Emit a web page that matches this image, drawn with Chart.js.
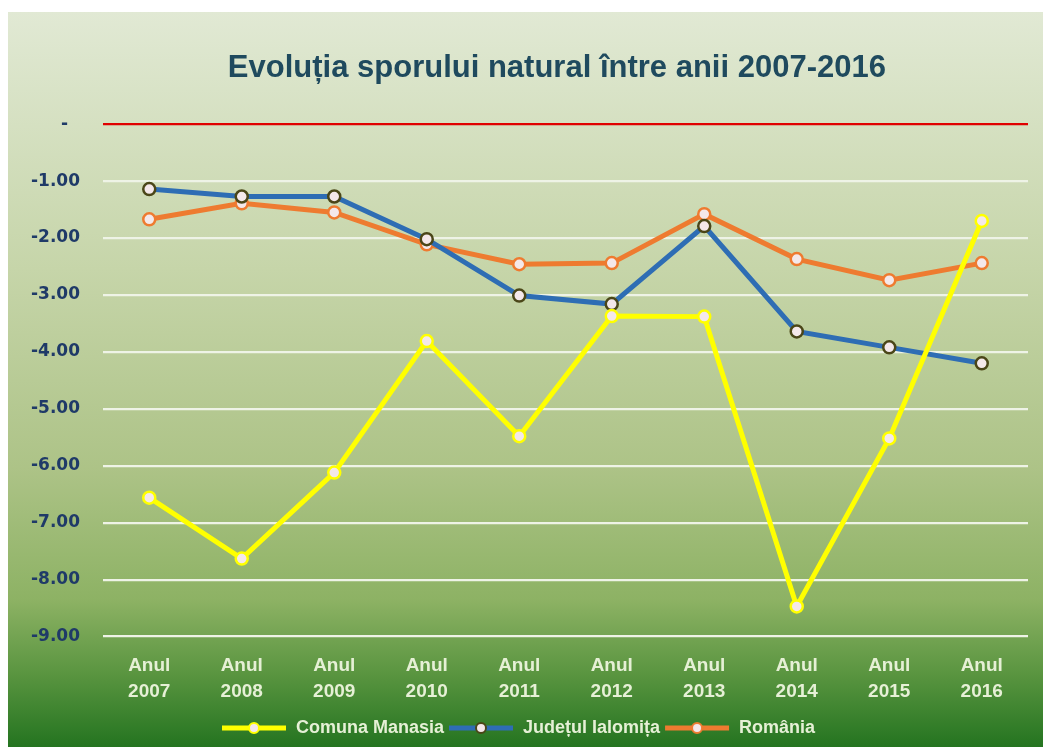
<!DOCTYPE html>
<html>
<head>
<meta charset="utf-8">
<script src="https://cdn.jsdelivr.net/npm/chart.js@4/dist/chart.umd.min.js"></script>
<style>
  html, body { margin: 0; padding: 0; background: #ffffff; }
  #wrap { position: absolute; left: 0; top: 0; width: 1043px; height: 747px; }
</style>
</head>
<body>
<div id="wrap"><canvas id="c" width="1043" height="747"></canvas></div>
<script>
const categories = [["Anul","2007"],["Anul","2008"],["Anul","2009"],["Anul","2010"],["Anul","2011"],["Anul","2012"],["Anul","2013"],["Anul","2014"],["Anul","2015"],["Anul","2016"]];
const comunaManasia = [-6.56, -7.63, -6.12, -3.81, -5.48, -3.37, -3.38, -8.47, -5.52, -1.70];
const judetulIalomita = [-1.14, -1.27, -1.27, -2.02, -3.01, -3.16, -1.79, -3.64, -3.92, -4.20];
const romania = [-1.67, -1.39, -1.55, -2.11, -2.46, -2.44, -1.58, -2.37, -2.74, -2.44];
const seriesNames = ["Comuna Manasia", "Județul Ialomița", "România"];
const yTicks = [0, -1, -2, -3, -4, -5, -6, -7, -8, -9];
const titleText = "Evoluția sporului natural între anii 2007-2016";

const bgPlugin = {
  id: 'bg',
  beforeDraw(chart) {
    const ctx = chart.ctx;
    ctx.save();
    ctx.fillStyle = '#ffffff';
    ctx.fillRect(0, 0, chart.width, chart.height);
    const g = ctx.createLinearGradient(0, 12, 0, 747);
    g.addColorStop(0.00, '#e1e9d4');
    g.addColorStop(0.35, '#c6d5a9');
    g.addColorStop(0.62, '#adc387');
    g.addColorStop(0.80, '#8db264');
    g.addColorStop(0.90, '#5a9540');
    g.addColorStop(1.00, '#247420');
    ctx.fillStyle = g;
    ctx.fillRect(8, 12, chart.width - 8, chart.height - 12);
    ctx.restore();
  }
};

function legendIcon(color, border) {
  const c = document.createElement('canvas');
  c.width = 66; c.height = 16;
  const x = c.getContext('2d');
  x.strokeStyle = color; x.lineWidth = 5;
  x.beginPath(); x.moveTo(1, 8); x.lineTo(65, 8); x.stroke();
  x.beginPath(); x.arc(33, 8, 5, 0, Math.PI * 2);
  x.fillStyle = '#f4e8ea'; x.fill();
  x.lineWidth = 2; x.strokeStyle = border; x.stroke();
  return c;
}

const colors = ['#ffff00', '#2e6db4', '#ee7b30'];
const borders = ['#ffff00', '#4a4618', '#ee7b30'];
const icons = colors.map((c, i) => legendIcon(c, borders[i]));

new Chart(document.getElementById('c'), {
  type: 'line',
  data: {
    labels: categories,
    datasets: [comunaManasia, judetulIalomita, romania].map((d, i) => ({
      label: seriesNames[i],
      data: d,
      borderColor: colors[i],
      backgroundColor: '#f4e8ea',
      borderWidth: 5,
      pointRadius: 6,
      pointBorderWidth: 2.5,
      pointBorderColor: borders[i],
      pointBackgroundColor: '#f4e8ea',
      tension: 0,
      pointStyle: 'circle'
    }))
  },
  options: {
    responsive: false,
    animation: false,
    layout: { padding: { left: 8, right: 15, top: 12, bottom: 0 } },
    plugins: {
      title: {
        display: true,
        text: titleText + '  ',
        fullSize: false,
        color: '#1f4a5e',
        font: { family: "'Liberation Sans', sans-serif", size: 31, weight: 'bold' },
        padding: { top: 38, bottom: 37 }
      },
      legend: {
        position: 'bottom',
        labels: {
          color: '#e6f0d6',
          font: { family: "'Liberation Sans', sans-serif", size: 18, weight: 'bold' },
          usePointStyle: true,
          pointStyleWidth: 66,
          boxWidth: 66,
          boxHeight: 15,
          padding: 4,
          generateLabels(chart) {
            return chart.data.datasets.map((ds, i) => ({
              text: ds.label,
              pointStyle: icons[i],
              fillStyle: colors[i],
              strokeStyle: colors[i],
              lineWidth: 0,
              fontColor: '#e6f0d6',
              hidden: false,
              datasetIndex: i
            }));
          }
        }
      },
      tooltip: { enabled: false }
    },
    scales: {
      x: {
        offset: true,
        afterFit(scale) { scale.height -= 6; },
        grid: { display: false, drawTicks: false },
        border: { display: false },
        ticks: {
          color: '#e6f0d6',
          padding: 16,
          maxRotation: 0,
          font: { family: "'Liberation Sans', sans-serif", size: 19, weight: 'bold', lineHeight: 1.38 }
        }
      },
      y: {
        min: -9, max: 0,
        afterBuildTicks(scale) { scale.ticks = yTicks.map(v => ({ value: v })); },
        grid: {
          color: (ctx) => ctx.tick && ctx.tick.value === 0 ? '#e00000' : '#eef3e6',
          lineWidth: 2.2,
          drawTicks: false
        },
        border: { display: false },
        ticks: {
          color: '#1f3a68',
          padding: 23,
          font: { family: "'DejaVu Sans', sans-serif", size: 17, weight: 'bold' },
          callback: (v) => v === 0 ? '-  ' : v.toFixed(2)
        }
      }
    }
  },
  plugins: [bgPlugin]
});
</script>
</body>
</html>
